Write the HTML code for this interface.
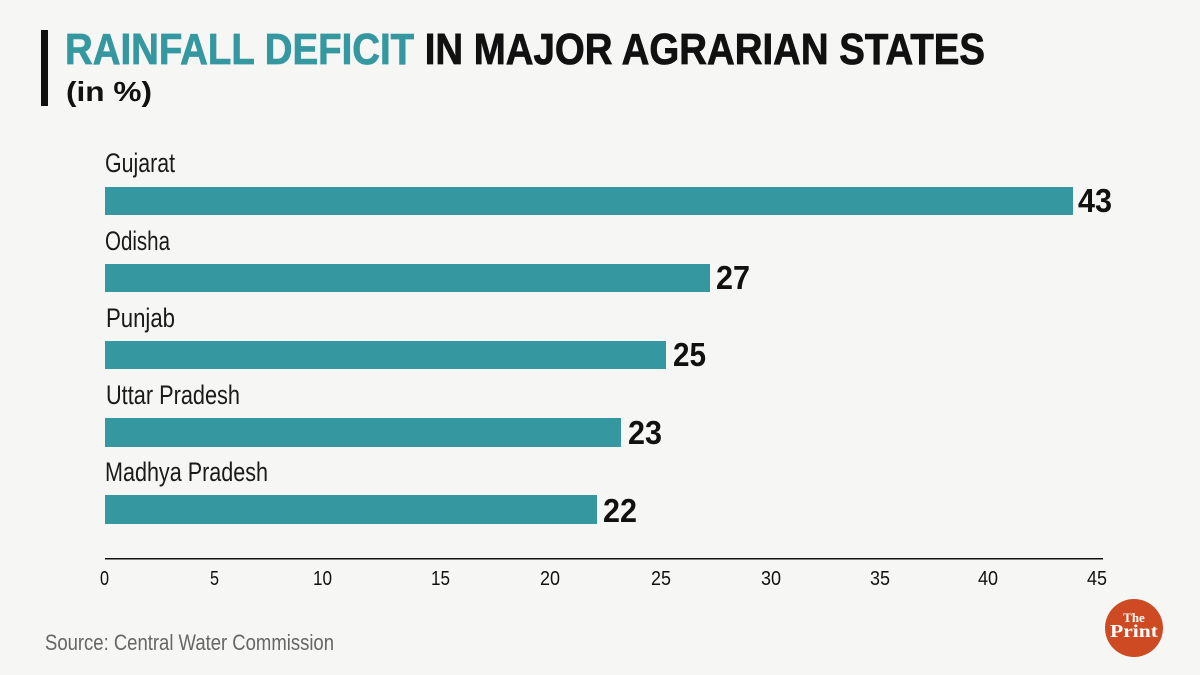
<!DOCTYPE html>
<html><head><meta charset="utf-8"><style>html,body{margin:0;padding:0;background:#f6f6f5;}svg{display:block}</style></head>
<body>
<svg width="1200" height="675" viewBox="0 0 1200 675" xmlns="http://www.w3.org/2000/svg" font-family="Liberation Sans, sans-serif">
<rect width="1200" height="675" fill="#f6f6f5"/>
<rect x="41" y="30" width="7" height="76" fill="#111"/>
<text x="65" y="64" font-size="44" font-weight="bold" textLength="920" lengthAdjust="spacingAndGlyphs" stroke-width="0.8"><tspan fill="#3598a0" stroke="#3598a0">RAINFALL DEFICIT</tspan><tspan fill="#111" stroke="#111"> IN MAJOR AGRARIAN STATES</tspan></text>
<text x="66" y="101" font-size="28" font-weight="bold" fill="#111" textLength="86" lengthAdjust="spacingAndGlyphs">(in %)</text>
<g fill="#1a1a1a" font-size="27">
<text x="105" y="172" textLength="70" lengthAdjust="spacingAndGlyphs">Gujarat</text>
<text x="105" y="250" textLength="65" lengthAdjust="spacingAndGlyphs">Odisha</text>
<text x="106" y="327" textLength="69" lengthAdjust="spacingAndGlyphs">Punjab</text>
<text x="106" y="404" textLength="134" lengthAdjust="spacingAndGlyphs">Uttar Pradesh</text>
<text x="105" y="481" textLength="163" lengthAdjust="spacingAndGlyphs">Madhya Pradesh</text>
</g>
<g fill="#3598a0">
<rect x="105" y="187" width="968" height="28"/>
<rect x="105" y="264" width="605" height="28"/>
<rect x="105" y="341" width="561" height="28"/>
<rect x="105" y="418" width="516" height="29"/>
<rect x="105" y="495" width="492" height="29"/>
</g>
<g fill="#111" font-size="33" font-weight="bold">
<text x="1078" y="212" textLength="34" lengthAdjust="spacingAndGlyphs">43</text>
<text x="716" y="289" textLength="34" lengthAdjust="spacingAndGlyphs">27</text>
<text x="673" y="366" textLength="33" lengthAdjust="spacingAndGlyphs">25</text>
<text x="628" y="444" textLength="34" lengthAdjust="spacingAndGlyphs">23</text>
<text x="603" y="522" textLength="34" lengthAdjust="spacingAndGlyphs">22</text>
</g>
<rect x="105" y="558" width="998" height="1.5" fill="#111"/>
<g fill="#111" font-size="20">
<text x="100" y="585" textLength="9" lengthAdjust="spacingAndGlyphs">0</text>
<text x="210" y="585" textLength="9" lengthAdjust="spacingAndGlyphs">5</text>
<text x="313" y="585" textLength="19" lengthAdjust="spacingAndGlyphs">10</text>
<text x="431" y="585" textLength="19" lengthAdjust="spacingAndGlyphs">15</text>
<text x="540" y="585" textLength="20" lengthAdjust="spacingAndGlyphs">20</text>
<text x="651" y="585" textLength="20" lengthAdjust="spacingAndGlyphs">25</text>
<text x="761" y="585" textLength="20" lengthAdjust="spacingAndGlyphs">30</text>
<text x="870" y="585" textLength="20" lengthAdjust="spacingAndGlyphs">35</text>
<text x="978" y="585" textLength="20" lengthAdjust="spacingAndGlyphs">40</text>
<text x="1087" y="585" textLength="20" lengthAdjust="spacingAndGlyphs">45</text>
</g>
<text x="45" y="650" font-size="22" fill="#666" textLength="289" lengthAdjust="spacingAndGlyphs">Source: Central Water Commission</text>
<circle cx="1134" cy="628" r="29" fill="#cd4a22"/>
<text x="1134" y="622" font-family="Liberation Serif, serif" font-weight="bold" font-size="13" fill="#fff" text-anchor="middle">The</text>
<text x="1134" y="637" font-family="Liberation Serif, serif" font-weight="bold" font-size="18" fill="#fff" text-anchor="middle" textLength="48" lengthAdjust="spacingAndGlyphs">Print</text>
</svg>
</body></html>
